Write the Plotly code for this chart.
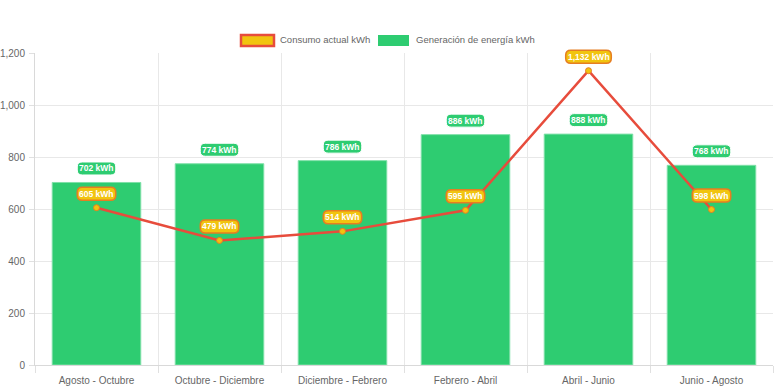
import plotly.graph_objects as go

categories = ["Agosto - Octubre", "Octubre - Diciembre", "Diciembre - Febrero",
              "Febrero - Abril", "Abril - Junio", "Junio - Agosto"]
generacion = [702, 774, 786, 886, 888, 768]
consumo = [605, 479, 514, 595, 1132, 598]
y_ticks = [0, 200, 400, 600, 800, 1000, 1200]

GREEN = "#2ecc71"
RED = "#e74c3c"
YELLOW = "#f1c40f"
ORANGE = "#e67e22"
FONT = "Liberation Sans, Arial, sans-serif"

xs = list(range(len(categories)))
n = len(categories)
X_RANGE = [-0.5, n - 0.5]
Y_RANGE = [0, 1200]

fig = go.Figure()
fig.add_trace(go.Bar(
    x=xs, y=generacion, name="Generación de energía kWh",
    marker=dict(color=GREEN, line=dict(color="#7fe0a8", width=1)),
    width=0.72, showlegend=False, hoverinfo="skip",
))
fig.add_trace(go.Scatter(
    x=xs, y=consumo, name="Consumo actual kWh", mode="lines+markers",
    line=dict(color=RED, width=2.5),
    marker=dict(size=6, color=YELLOW, line=dict(color=ORANGE, width=1)),
    showlegend=False, hoverinfo="skip",
))

def fmt(v):
    return f"{v:,} kWh"

def label_width(txt):
    w = 4.0
    for ch in txt:
        if ch.isdigit():
            w += 4.7
        elif ch in ", ":
            w += 2.4
        elif ch == "W":
            w += 8.0
        else:
            w += 5.0
    return w

def rounded(w, h, r, dy):
    x0, x1 = -w / 2, w / 2
    y0, y1 = dy - h / 2, dy + h / 2
    return (f"M{x0 + r},{y0} L{x1 - r},{y0} Q{x1},{y0} {x1},{y0 + r} "
            f"L{x1},{y1 - r} Q{x1},{y1} {x1 - r},{y1} L{x0 + r},{y1} "
            f"Q{x0},{y1} {x0},{y1 - r} L{x0},{y0 + r} Q{x0},{y0} {x0 + r},{y0} Z")

DY = 14
def add_label(x, v, fill, border, bw):
    txt = fmt(v)
    # paper-referenced anchor so the label box is not clipped at the plot edge
    px = (x - X_RANGE[0]) / (X_RANGE[1] - X_RANGE[0])
    py = (v - Y_RANGE[0]) / (Y_RANGE[1] - Y_RANGE[0])
    fig.add_shape(type="path", xref="paper", yref="paper", xsizemode="pixel", ysizemode="pixel",
                  xanchor=px, yanchor=py, path=rounded(label_width(txt), 13, 5, DY),
                  fillcolor=fill, line=dict(color=border, width=bw), layer="above")
    fig.add_annotation(x=x, y=v, text=f"<b>{txt}</b>", showarrow=False, yshift=DY,
                       font=dict(color="white", size=8.5, family=FONT))

for x, v in zip(xs, generacion):
    add_label(x, v, GREEN, "#ffffff", 1)
for x, v in zip(xs, consumo):
    add_label(x, v, YELLOW, ORANGE, 1.5)

# manual Chart.js-style legend
fig.add_shape(type="rect", xref="paper", yref="paper",
              x0=(241 - 35) / 738, x1=(274 - 35) / 738,
              y0=(365 - 46) / 312, y1=(365 - 35) / 312,
              fillcolor=YELLOW, line=dict(color=RED, width=2.5))
fig.add_annotation(xref="paper", yref="paper", x=(278 - 35) / 738, y=(365 - 40) / 312,
                   xanchor="left", yanchor="middle", showarrow=False,
                   text="Consumo actual kWh", font=dict(size=9.5, color="#666", family=FONT))
fig.add_shape(type="rect", xref="paper", yref="paper",
              x0=(378 - 35) / 738, x1=(409 - 35) / 738,
              y0=(365 - 46) / 312, y1=(365 - 35) / 312,
              fillcolor=GREEN, line=dict(color=GREEN, width=0))
fig.add_annotation(xref="paper", yref="paper", x=(414 - 35) / 738, y=(365 - 40) / 312,
                   xanchor="left", yanchor="middle", showarrow=False,
                   text="Generación de energía kWh", font=dict(size=9.5, color="#666", family=FONT))

fig.update_layout(
    width=776, height=388,
    margin=dict(l=35, r=3, t=53, b=23),
    plot_bgcolor="white", paper_bgcolor="white",
    font=dict(family=FONT, color="#666", size=10),
    showlegend=False,
    xaxis=dict(
        range=X_RANGE, tickmode="array", tickvals=xs, ticktext=categories,
        showgrid=False, ticks="", zeroline=False, automargin=False,
        showline=True, linecolor="#d9d9d9", linewidth=1,
        tickfont=dict(size=10, color="#666"), ticklabelstandoff=6,
        minor=dict(tickmode="array", tickvals=[i - 0.5 for i in range(n + 1)],
                   showgrid=True, gridcolor="#e8e8e8", gridwidth=1,
                   ticks="outside", ticklen=7, tickcolor="#e0e0e0"),
    ),
    yaxis=dict(
        range=Y_RANGE, tickmode="array", tickvals=y_ticks,
        tickformat=",", showgrid=True, gridcolor="#e8e8e8", gridwidth=1,
        zeroline=False, showline=True, linecolor="#d9d9d9", linewidth=1,
        ticks="outside", ticklen=5, tickcolor="#e0e0e0", automargin=False,
        tickfont=dict(size=10, color="#666"), ticklabelstandoff=2,
    ),
)

fig.write_html("out.html", config={"displayModeBar": False},
               post_script="document.body.style.margin='0';")
